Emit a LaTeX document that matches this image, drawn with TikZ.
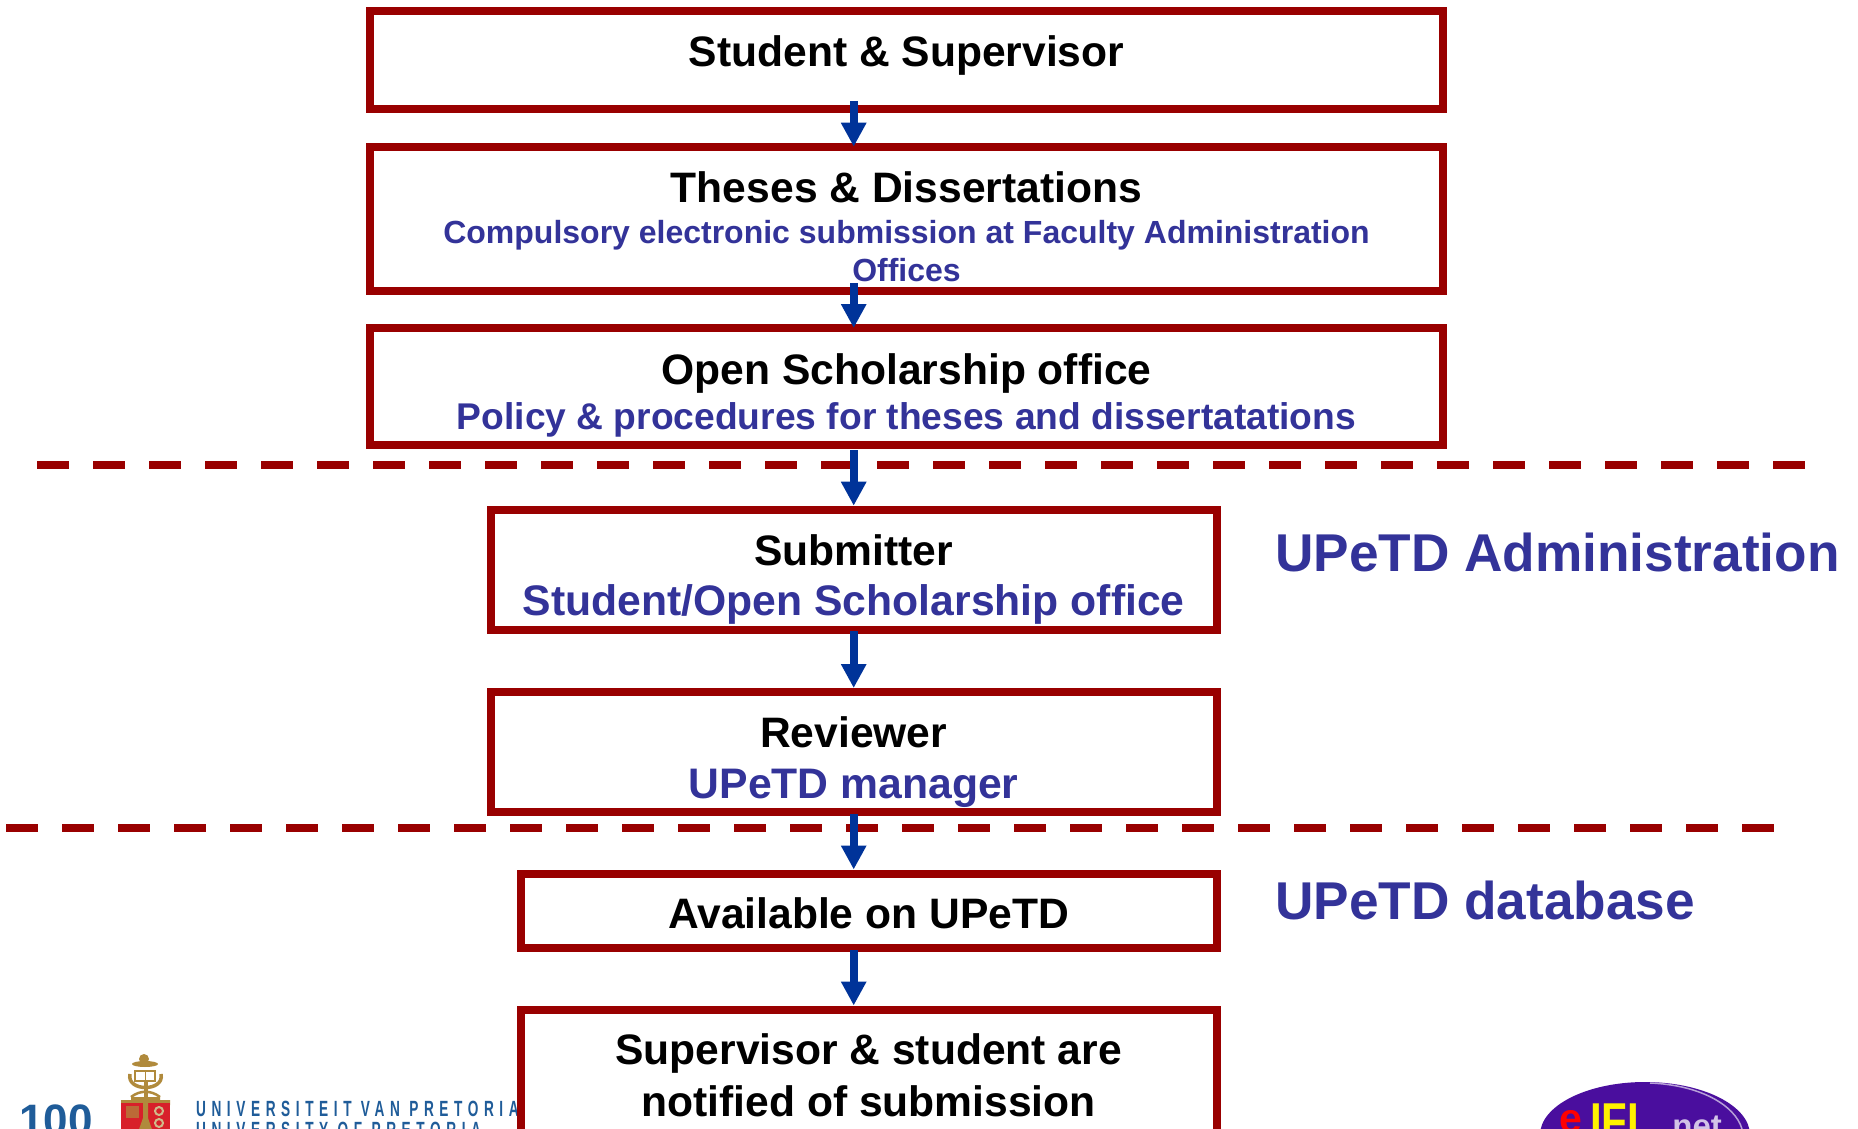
\documentclass[tikz,border=0pt]{standalone}
\usepackage{fontspec}
\setmainfont{Liberation Sans}
\usetikzlibrary{arrows.meta}
\definecolor{boxred}{HTML}{990000}
\definecolor{arrowblue}{HTML}{003399}
\definecolor{subblue}{HTML}{333399}
\definecolor{crestred}{HTML}{D8202A}
\definecolor{crestgold}{HTML}{B08A3C}
\definecolor{upblue}{HTML}{1F5C99}
\definecolor{eiflpurple}{HTML}{4A0E9E}
\tikzset{
  x=1pt,y=-1pt,
  flowbox/.style={draw=boxred,line width=8pt,fill=white},
  flowarrow/.style={draw=arrowblue,line width=8pt,-{Triangle[length=24pt,width=24pt]}},
  divider/.style={draw=boxred,line width=8pt,dash pattern=on 32pt off 24pt},
  ttl/.style={font=\fontsize{42.6}{48}\selectfont\bfseries,text=black,anchor=base,inner sep=0pt},
  sub/.style={font=\fontsize{32}{38}\selectfont\bfseries,text=subblue,anchor=base,inner sep=0pt},
  subb/.style={font=\fontsize{42.7}{48}\selectfont\bfseries,text=subblue,anchor=base,inner sep=0pt},
  side/.style={font=\fontsize{53.2}{60}\selectfont\bfseries,text=subblue,anchor=west,inner sep=0pt},
  uptext/.style={font=\fontsize{22}{24}\selectfont\bfseries\addfontfeature{LetterSpace=41},text=upblue,inner sep=0pt,anchor=base west,xscale=.62,transform shape},
}
\begin{document}
\begin{tikzpicture}
\useasboundingbox (0,0) rectangle (1858,1129);
\clip (0,0) rectangle (1858,1129);
\fill[white] (0,0) rectangle (1858,1129);
% UP logo
\node[font=\fontsize{44}{46}\selectfont\bfseries,text=upblue,inner sep=0pt,anchor=base west] (hundred) at (19,1135) {100};
\fill[crestgold] (121,1100) -- (131,1100) -- (131,1097) -- (160,1097) -- (160,1100) -- (170,1100) -- (170,1105) -- (121,1105) -- cycle;
\fill[crestred] (121,1103) rectangle (170,1135);
\fill[crestgold] (143,1103) -- (148,1103) -- (148,1118) -- (154,1135) -- (137,1135) -- (143,1118) -- cycle;
\fill[crestgold!70!crestred] (126,1106) rectangle (139,1118);
\draw[crestgold!60!white,line width=2pt] (159,1111) circle (4);
\draw[crestgold!60!white,line width=2pt] (159,1123) circle (4);
\draw[crestgold,line width=4pt] (145.5,1080) -- (145.5,1100);
\draw[crestgold,line width=3.5pt] (130,1074) .. controls (126,1092) and (165,1092) .. (161,1074);
\draw[crestgold,line width=2.5pt] (131,1097) .. controls (140,1090) and (151,1090) .. (160,1097);
\fill[white,draw=crestgold,line width=1.5pt] (135,1071) rectangle (155,1081);
\draw[crestgold,line width=1pt] (145,1071) -- (145,1081);
\fill[crestgold] (145,1064) ellipse (13 and 3);
\fill[crestgold] (144,1059) circle (5);
\node[uptext] (uvp) at (196,1116) {UNIVERSITEIT VAN PRETORIA};
\node[uptext] (uop) at (196,1137) {UNIVERSITY OF PRETORIA};
% eIFL logo
\fill[eiflpurple] (1645,1135) ellipse (105 and 53);
\draw[white!60!eiflpurple,line width=1.5pt] (1650,1083) .. controls (1700,1085) and (1735,1105) .. (1742,1129);
\node[font=\fontsize{41}{46}\selectfont\bfseries,text=red,inner sep=0pt,anchor=base west] (ee) at (1559,1132) {e};
\node[font=\fontsize{42}{46}\selectfont\bfseries,text=yellow,inner sep=0pt,anchor=base west,yscale=1.2,transform shape] (ifl) at (1590,1138) {IFL};
\node[font=\fontsize{33}{36}\selectfont\bfseries,text=white!75!eiflpurple,inner sep=0pt,anchor=base west] (net) at (1663,1137) {.net};
% boxes
\draw[flowbox] (369.5,10.7) rectangle (1443,109.3);
\draw[flowbox] (369.5,146.7) rectangle (1443,290.7);
\draw[flowbox] (369.5,328.3) rectangle (1443,445);
\draw[flowbox] (490.7,509.5) rectangle (1216.5,629.5);
\draw[flowbox] (490.7,691.5) rectangle (1216.5,812);
\draw[flowbox] (520.7,873.5) rectangle (1216.5,947.5);
\draw[flowbox] (520.7,1009.5) rectangle (1216.5,1150);
% anchors
\coordinate (a1s) at (853.7,101); \coordinate (a1e) at (853.7,146.7);
\coordinate (a2s) at (853.7,283); \coordinate (a2e) at (853.7,328);
\coordinate (a3s) at (853.7,450); \coordinate (a3e) at (853.7,505.7);
\coordinate (a4s) at (853.7,631); \coordinate (a4e) at (853.7,688);
\coordinate (a5s) at (853.7,814); \coordinate (a5e) at (853.7,869.5);
\coordinate (a6s) at (853.7,950); \coordinate (a6e) at (853.7,1005.5);
% dividers
\coordinate (d1a) at (37,464.5); \coordinate (d1b) at (1806,464.5);
\coordinate (d2a) at (6,827.5); \coordinate (d2b) at (1775,827.5);
\draw[divider] (d1a) -- (d1b);
\draw[divider] (d2a) -- (d2b);
% arrows
\foreach \n in {1,...,6} \draw[flowarrow] (a\n s) -- (a\n e);
% text
\node[ttl] (t1) at (906.5,66.7) {Student \& Supervisor};
\node[ttl] (t2) at (906.5,202.5) {Theses \& Dissertations};
\node[sub] (t2a) at (906.5,243) {Compulsory electronic submission at Faculty Administration};
\node[sub] (t2b) at (906.5,281) {Offices};
\node[ttl] (t3) at (906.5,384.3) {Open Scholarship office};
\node[subb,font=\fontsize{37.2}{42}\selectfont\bfseries] (t3a) at (906.5,429) {Policy \& procedures for theses and dissertatations};
\node[ttl] (t4) at (853.7,565) {Submitter};
\node[subb] (t4a) at (853.7,615.7) {Student/Open Scholarship office};
\node[ttl] (t5) at (853.7,747) {Reviewer};
\node[subb] (t5a) at (853.7,798.5) {UPeTD manager};
\node[ttl] (t6) at (868.6,928) {Available on UPeTD};
\node[ttl] (t7) at (868.6,1064) {Supervisor \& student are};
\node[ttl] (t7a) at (868.6,1116) {notified of submission};
\node[side] (s1) at (1275,552) {UPeTD Administration};
\node[side] (s2) at (1275,900) {UPeTD database};
\end{tikzpicture}
\end{document}
